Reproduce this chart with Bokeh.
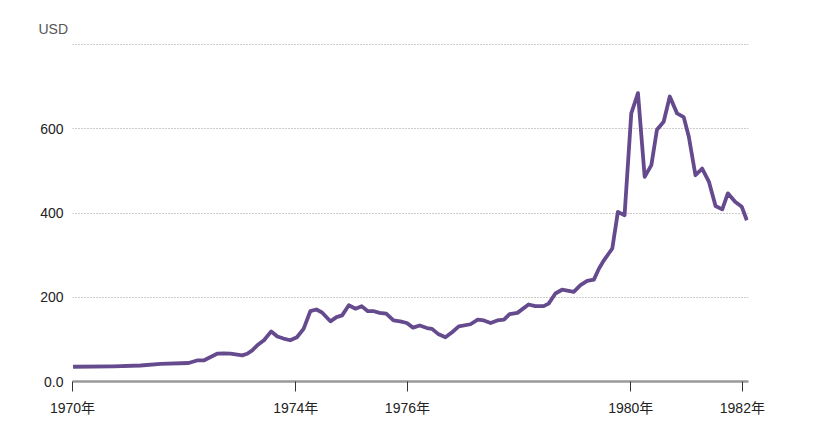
from bokeh.plotting import figure
from bokeh.models import Range1d, FixedTicker
from bokeh.embed import file_html
from bokeh.resources import INLINE

# Gold price (USD/oz); x in decimal years
years = [1970.01, 1970.73, 1971.22, 1971.58, 1972.08, 1972.23, 1972.35, 1972.59, 1972.71,
         1972.83, 1972.95, 1973.04, 1973.13, 1973.22, 1973.31, 1973.43, 1973.56, 1973.67,
         1973.78, 1973.90, 1974.02, 1974.14, 1974.26, 1974.37, 1974.47, 1974.62, 1974.73,
         1974.83, 1974.95, 1975.07, 1975.18, 1975.29, 1975.40, 1975.50, 1975.62, 1975.75,
         1975.87, 1975.99, 1976.10, 1976.22, 1976.35, 1976.44, 1976.56, 1976.68, 1976.80,
         1976.92, 1977.13, 1977.26, 1977.37, 1977.49, 1977.61, 1977.73, 1977.83, 1977.97,
         1978.17, 1978.29, 1978.44, 1978.53, 1978.65, 1978.77, 1978.98, 1979.10, 1979.22,
         1979.34, 1979.43, 1979.52, 1979.67, 1979.77, 1979.89, 1980.01, 1980.13, 1980.25,
         1980.37, 1980.47, 1980.59, 1980.70, 1980.83, 1980.95, 1981.04, 1981.16, 1981.28,
         1981.40, 1981.52, 1981.64, 1981.74, 1981.87, 1981.99, 1982.08]
prices = [35, 36, 38, 42, 44, 50, 50, 66, 67,
          66, 64, 62, 66, 74, 86, 98, 119, 107,
          102, 98, 105, 125, 167, 171, 164, 143, 153,
          157, 181, 173, 179, 167, 167, 163, 161, 145,
          143, 139, 128, 133, 127, 125, 112, 105, 117,
          131, 136, 147, 145, 139, 145, 147, 160, 163,
          183, 179, 179, 185, 209, 218, 213, 229, 239,
          242, 268, 288, 316, 403, 395, 637, 685, 486,
          514, 598, 617, 677, 637, 628, 582, 490, 506,
          475, 417, 409, 447, 427, 415, 383]

tick_years = [1970, 1974, 1976, 1980, 1982]
tick_labels = ["1970年", "1974年", "1976年", "1980年", "1982年"]
y_ticks = [0, 200, 400, 600, 800]
y_labels = ["0.0", "200", "400", "600", ""]
unit_label = "USD"

FONT = "Liberation Sans, Noto Sans CJK SC"

p = figure(width=820, height=425, output_backend="svg", toolbar_location=None,
           x_range=Range1d(1970, 1982.11), y_range=Range1d(0, 803),
           min_border_left=72, min_border_right=72, min_border_top=43, min_border_bottom=44)
p.outline_line_color = None
p.background_fill_color = "white"
p.border_fill_color = "white"

p.title.text = unit_label
p.title.align = "left"
p.title.offset = -34
p.title.standoff = 14
p.title.text_font = FONT
p.title.text_font_size = "14px"
p.title.text_font_style = "normal"
p.title.text_color = "#555555"

p.line(years, prices, line_color="#654a8e", line_width=3.8, line_join="round")

# x axis
xa = p.xaxis[0]
xa.ticker = FixedTicker(ticks=tick_years)
xa.major_label_overrides = {t: l for t, l in zip(tick_years, tick_labels)}
xa.axis_line_color = "#999999"
xa.axis_line_width = 2.5
xa.major_tick_line_color = "#333333"
xa.major_tick_line_width = 1
xa.major_tick_in = 0
xa.major_tick_out = 10
xa.minor_tick_line_color = None
xa.major_label_standoff = 8
xa.major_label_text_font = FONT
xa.major_label_text_font_size = "14px"
xa.major_label_text_color = "#222222"

# y axis
ya = p.yaxis[0]
ya.ticker = FixedTicker(ticks=y_ticks)
ya.major_label_overrides = {t: l for t, l in zip(y_ticks, y_labels)}
ya.axis_line_color = None
ya.major_tick_line_color = None
ya.minor_tick_line_color = None
ya.major_label_standoff = 3
ya.major_label_text_font = FONT
ya.major_label_text_font_size = "14px"
ya.major_label_text_color = "#222222"

p.xgrid.grid_line_color = None
p.ygrid.ticker = FixedTicker(ticks=[200, 400, 600, 800])
p.ygrid.grid_line_color = "#999999"
p.ygrid.grid_line_dash = "1 2"
p.ygrid.grid_line_width = 1

open("out.html", "w").write(file_html(p, INLINE))
